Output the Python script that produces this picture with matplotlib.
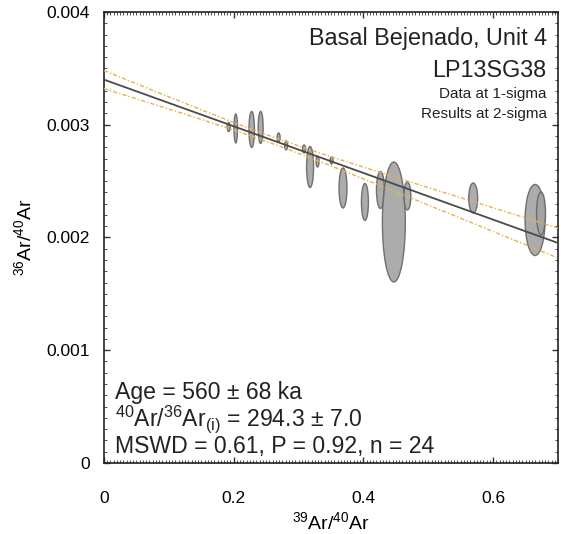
import numpy as np
import matplotlib
matplotlib.use("Agg")
import matplotlib.pyplot as plt
from matplotlib.patches import Ellipse
from matplotlib.ticker import MultipleLocator

plt.rcParams['font.family'] = ['Liberation Sans', 'DejaVu Sans']
plt.rcParams['mathtext.fontset'] = 'custom'
plt.rcParams['mathtext.rm'] = 'Liberation Sans'
plt.rcParams['mathtext.it'] = 'Liberation Sans:italic'

# 39Ar/40Ar, 36Ar/40Ar (x1e-3) and 1-sigma ellipse sizes (full width / height)
x_vals = [0.1923, 0.2031, 0.2277, 0.2415, 0.2692, 0.2808, 0.3085, 0.3177, 0.3292,
          0.3508, 0.3685, 0.4023, 0.4262, 0.4469, 0.4677, 0.5692, 0.6646, 0.6738]
y_vals = [2.980, 2.967, 2.958, 2.976, 2.887, 2.816, 2.785, 2.625, 2.674,
          2.683, 2.439, 2.315, 2.421, 2.137, 2.368, 2.350, 2.155, 2.213]
x_size = [0.0046, 0.0054, 0.0085, 0.0077, 0.0046, 0.0046, 0.0046, 0.0108, 0.0046,
          0.0046, 0.0123, 0.0108, 0.0123, 0.0354, 0.0108, 0.0138, 0.0308, 0.0138]
y_size = [0.080, 0.257, 0.319, 0.284, 0.080, 0.080, 0.071, 0.364, 0.098,
          0.062, 0.355, 0.328, 0.328, 1.064, 0.248, 0.266, 0.630, 0.381]

x_ticks = [0, 0.2, 0.4, 0.6]
x_labels = ['0', '0.2', '0.4', '0.6']
y_ticks = [0, 0.001, 0.002, 0.003, 0.004]
y_labels = ['0', '0.001', '0.002', '0.003', '0.004']

# isochron fit (y in units of 1e-3) and its 2-sigma envelope
intercept = 3.400
slope = -2.070
env_min = 0.030
env_slope = 0.291
env_center = 0.255

fig = plt.figure(figsize=(5.61, 5.34), dpi=100)
ax = fig.add_axes([0.1854, 0.133, 0.8093, 0.8446])

for xv, yv, w, h in zip(x_vals, y_vals, x_size, y_size):
    ax.add_patch(Ellipse((xv, yv * 1e-3), w, h * 1e-3, facecolor='#a3a3a3',
                         edgecolor='#666666', lw=1.0, alpha=0.9, zorder=2))

xx = np.linspace(0, 0.7, 200)
yy = intercept + slope * xx
half = np.sqrt(env_min ** 2 + env_slope ** 2 * (xx - env_center) ** 2)
ax.plot(xx, yy * 1e-3, color='#4a4a4a', lw=1.3, zorder=3)
dash = (0, (3, 1.5, 1, 1.5))
ax.plot(xx, (yy + half) * 1e-3, color='#e8b050', lw=1.0, ls=dash, zorder=3)
ax.plot(xx, (yy - half) * 1e-3, color='#e8b050', lw=1.0, ls=dash, zorder=3)

ax.set_xlim(0, 0.7)
ax.set_ylim(0, 0.004)
ax.set_xticks(x_ticks)
ax.set_xticklabels(x_labels)
ax.set_yticks(y_ticks)
ax.set_yticklabels(y_labels)
ax.xaxis.set_minor_locator(MultipleLocator(0.005))
ax.yaxis.set_minor_locator(MultipleLocator(0.0001))
ax.tick_params(which='both', direction='in', top=True, right=True, color='#333333')
ax.tick_params(which='major', length=4, width=1)
ax.tick_params(which='minor', length=2, width=0.6)
ax.tick_params(axis='x', which='major', pad=20, labelsize=12.5)
ax.tick_params(axis='y', which='major', pad=10, labelsize=12.5)
for sp in ax.spines.values():
    sp.set_linewidth(1.2)
    sp.set_color('#222222')

ax.set_xlabel(r'$^{\mathrm{39}}$Ar/$^{\mathrm{40}}$Ar', fontsize=14, labelpad=4)
ax.set_ylabel(r'$^{\mathrm{36}}$Ar/$^{\mathrm{40}}$Ar', fontsize=14, labelpad=8)

tc = '#222222'
ax.text(0.975, 0.967, 'Basal Bejenado, Unit 4', transform=ax.transAxes,
        ha='right', va='top', fontsize=16.8, color=tc)
ax.text(0.975, 0.895, 'LP13SG38', transform=ax.transAxes,
        ha='right', va='top', fontsize=16.8, color=tc)
ax.text(0.975, 0.833, 'Data at 1-sigma', transform=ax.transAxes,
        ha='right', va='top', fontsize=11, color=tc)
ax.text(0.975, 0.79, 'Results at 2-sigma', transform=ax.transAxes,
        ha='right', va='top', fontsize=11, color=tc)

ax.text(0.024, 0.156, 'Age = 560 ± 68 ka', transform=ax.transAxes,
        ha='left', va='center', fontsize=16.6, color=tc)
ax.text(0.024, 0.096, r'$^{\mathrm{40}}$Ar/$^{\mathrm{36}}$Ar$_{\mathrm{(i)}}$ = 294.3 ± 7.0',
        transform=ax.transAxes, ha='left', va='center', fontsize=16.6, color=tc)
ax.text(0.024, 0.036, 'MSWD = 0.61, P = 0.92, n = 24', transform=ax.transAxes,
        ha='left', va='center', fontsize=16.6, color=tc)

fig.savefig('out.png', dpi=100)
